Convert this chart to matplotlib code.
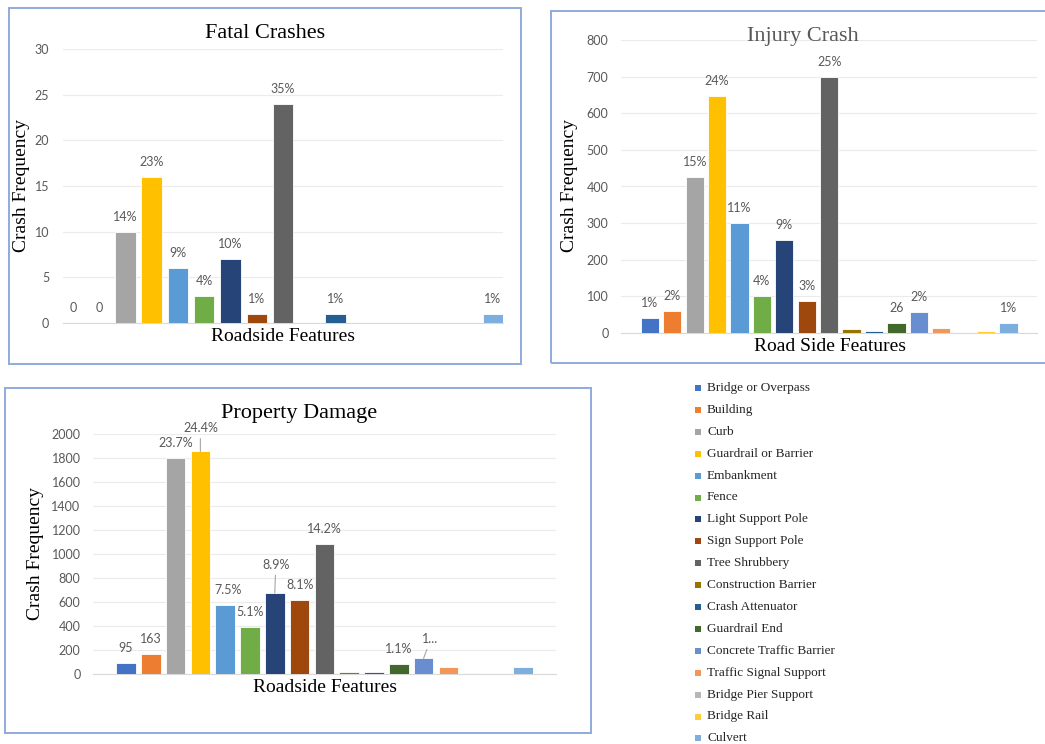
import matplotlib.pyplot as plt
from matplotlib.patches import Rectangle

features = ['Bridge or Overpass', 'Building', 'Curb', 'Guardrail or Barrier', 'Embankment',
            'Fence', 'Light Support Pole', 'Sign Support Pole', 'Tree Shrubbery',
            'Construction Barrier', 'Crash Attenuator', 'Guardrail End',
            'Concrete Traffic Barrier', 'Traffic Signal Support', 'Bridge Pier Support',
            'Bridge Rail', 'Culvert']
colors = ['#4472C4', '#ED7D31', '#A5A5A5', '#FFC000', '#5B9BD5', '#70AD47', '#264478',
          '#9E480E', '#636363', '#997300', '#255E91', '#43682B', '#698ED0', '#F1975A',
          '#B7B7B7', '#FFCD33', '#7CAFDD']

fatal = [0, 0, 10, 16, 6, 3, 7, 1, 24, 0, 1, 0, 0, 0, 0, 0, 1]
fatal_labels = ['0', '0', '14%', '23%', '9%', '4%', '10%', '1%', '35%', '', '1%',
                '', '', '', '', '', '1%']

injury = [40, 60, 425, 648, 300, 100, 255, 88, 698, 10, 6, 26, 57, 13, 0, 5, 28]
injury_labels = ['1%', '2%', '15%', '24%', '11%', '4%', '9%', '3%', '25%', '', '', '26',
                 '2%', '', '', '', '1%']

property_dmg = [95, 163, 1800, 1855, 575, 390, 675, 615, 1085, 20, 18, 80, 130, 55, 5, 5, 60]
property_labels = ['95', '163', '23.7%', '24.4%', '7.5%', '5.1%', '8.9%', '8.1%', '14.2%',
                   '', '', '1.1%', '1...', '', '', '', '']

W, H = 1045, 744
SERIF = 'Liberation Serif'
SANS = 'Lato'
GRAY = '#595959'

fig = plt.figure(figsize=(W / 100, H / 100), dpi=100)
fig.patch.set_facecolor('white')


def px_axes(left, top, right, bottom):
    return fig.add_axes([left / W, 1 - bottom / H, (right - left) / W, (bottom - top) / H])


def box(x0, y0, x1, y1):
    fig.add_artist(Rectangle((x0 / W, 1 - y1 / H), (x1 - x0) / W, (y1 - y0) / H,
                             transform=fig.transFigure, fill=False,
                             edgecolor='#8FAADC', linewidth=1.4))


def ftext(x, y, s, **kw):
    fig.text(x / W, 1 - y / H, s, ha='center', va='center', **kw)


def draw_bars(ax, values, labels, ymax, step, xlim, width, pad, offsets=None):
    offsets = offsets or {}
    xs = range(len(values))
    ax.bar(xs, values, width=width, color=colors, edgecolor='white', linewidth=0.6, zorder=3)
    ax.set_xlim(*xlim)
    ax.set_ylim(0, ymax)
    ax.set_yticks(range(0, ymax + 1, step))
    ax.set_xticks([])
    ax.grid(axis='y', color='#EBEBEB', linewidth=0.8, zorder=0)
    for side in ['top', 'right', 'left']:
        ax.spines[side].set_visible(False)
    ax.spines['bottom'].set_color('#D9D9D9')
    ax.tick_params(axis='y', length=0, pad=pad, labelcolor=GRAY, labelsize=9)
    for t in ax.get_yticklabels():
        t.set_fontfamily(SANS)
    for i, (v, lab) in enumerate(zip(values, labels)):
        if not lab:
            continue
        dx, dy, leader = offsets.get(i, (0, 15, False))
        arrow = dict(arrowstyle='-', color='#A6A6A6', lw=0.8, shrinkA=1, shrinkB=0) if leader else None
        ax.annotate(lab, xy=(i, v), xytext=(dx, dy), textcoords='offset pixels',
                    ha='center', va='center', fontsize=9, family=SANS, color=GRAY,
                    arrowprops=arrow, annotation_clip=False, zorder=4)


# Fatal crashes
box(9, 8, 521, 364)
ax1 = px_axes(63, 49, 503, 323)
draw_bars(ax1, fatal, fatal_labels, 30, 5, (-0.38, 16.38), 0.78, 10)
ftext(265, 34, 'Fatal Crashes', family=SERIF, fontsize=16, color='black')
ftext(283, 337, 'Roadside Features', family=SERIF, fontsize=14, color='black')
ftext(22, 186, 'Crash Frequency', family=SERIF, fontsize=14, color='black', rotation=90)

# Injury crashes
box(551, 11, 1060, 363)
ax2 = px_axes(621, 40, 1037, 333)
draw_bars(ax2, injury, injury_labels, 800, 100, (-1.29, 17.28), 0.82, 9)
ftext(803, 37, 'Injury Crash', family=SERIF, fontsize=16, color=GRAY)
ftext(570, 186, 'Crash Frequency', family=SERIF, fontsize=14, color='black', rotation=90)
ftext(830, 347, 'Road Side Features', family=SERIF, fontsize=14, color='black')

# Property damage crashes
box(5, 388, 591, 733)
ax3 = px_axes(93, 434, 556, 674)
prop_offsets = {3: (0, 23, True), 4: (3, 15, False), 6: (1, 28, True), 12: (7, 19, True)}
draw_bars(ax3, property_dmg, property_labels, 2000, 200, (-1.33, 17.34), 0.79, 9, prop_offsets)
ftext(299, 414, 'Property Damage', family=SERIF, fontsize=16, color='black')
ftext(325, 688, 'Roadside Features', family=SERIF, fontsize=14, color='black')
ftext(35, 553, 'Crash Frequency', family=SERIF, fontsize=14, color='black', rotation=90)

# shared legend
for i, (name, c) in enumerate(zip(features, colors)):
    y = 388 + i * 21.9
    fig.add_artist(Rectangle((695 / W, 1 - (y + 3) / H), 6 / W, 6 / H,
                             transform=fig.transFigure, facecolor=c, edgecolor='none'))
    fig.text(707 / W, 1 - y / H, name, ha='left', va='center', family=SERIF,
             fontsize=9.5, color='#262626')

fig.savefig('out.png', dpi=100)
